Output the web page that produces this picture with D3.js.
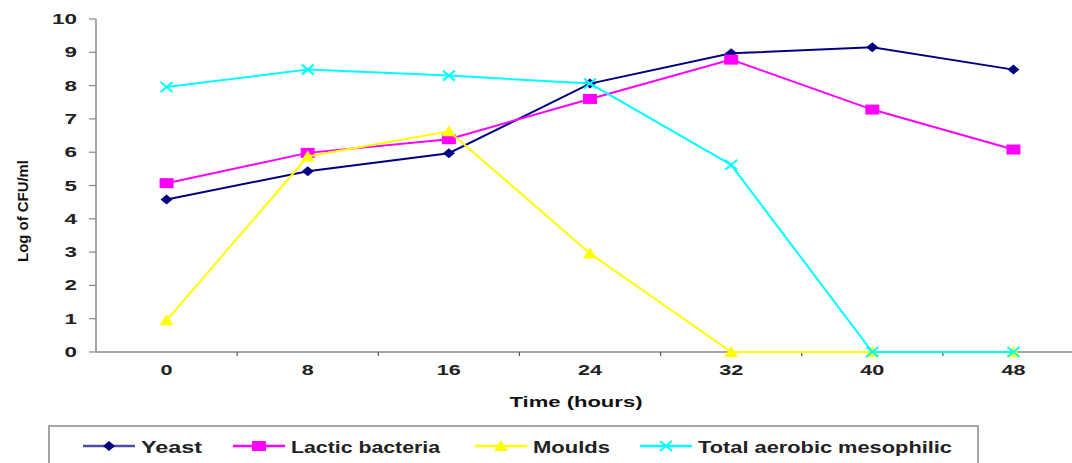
<!DOCTYPE html>
<html><head><meta charset="utf-8">
<script src="https://cdn.jsdelivr.net/npm/d3@7"></script>
<style>body{margin:0;background:#fff;overflow:hidden}svg{display:block;font-family:"Liberation Sans",Arial,sans-serif}</style>
</head><body>
<svg id="c" width="1072" height="463"></svg>
<script>
const hours = ["0","8","16","24","32","40","48"];
const yeast = [4.58, 5.43, 5.97, 8.06, 8.97, 9.15, 8.48];
const lactic = [5.07, 5.98, 6.39, 7.6, 8.78, 7.28, 6.08];
const moulds = [0.95, 5.87, 6.63, 2.96, 0, 0, 0];
const aerobic = [7.96, 8.48, 8.3, 8.06, 5.62, 0, 0];
const yTicks = [0,1,2,3,4,5,6,7,8,9,10];
const seriesNames = ["Yeast","Lactic bacteria","Moulds","Total aerobic mesophilic"];

(function(){
const series = [
  {name: seriesNames[0], values: yeast, color: "#000080", marker: "diamond", tl: 61},
  {name: seriesNames[1], values: lactic, color: "#ff00ff", marker: "square", tl: 149},
  {name: seriesNames[2], values: moulds, color: "#ffff00", marker: "triangle", tl: 77},
  {name: seriesNames[3], values: aerobic, color: "#00ffff", marker: "x", tl: 254}
];

const svg = d3.select("#c");
const mLeft = 96, mRight = 1084, mTop = 19, mBottom = 352;
const x = d3.scaleBand().domain(hours).range([mLeft, mRight]);
const y = d3.scaleLinear().domain([0, 10]).range([mBottom, mTop]);

const axisColor = "#888";
svg.append("line").attr("x1", mLeft).attr("x2", mLeft).attr("y1", mTop).attr("y2", mBottom).attr("stroke", axisColor).attr("stroke-width", 1.5);
svg.append("line").attr("x1", mLeft).attr("x2", 1072).attr("y1", mBottom).attr("y2", mBottom).attr("stroke", axisColor).attr("stroke-width", 1.5);
svg.selectAll(".yt").data(yTicks).enter().append("line")
  .attr("x1", mLeft - 7).attr("x2", mLeft).attr("y1", d => y(d)).attr("y2", d => y(d)).attr("stroke", axisColor).attr("stroke-width", 1.2);
svg.selectAll(".ytl").data(yTicks).enter().append("text")
  .attr("x", 77).attr("y", d => y(d)).attr("dy", "0.36em").attr("text-anchor", "end")
  .attr("font-size", 14).attr("font-weight", "bold").attr("fill", "#222")
  .attr("textLength", d => String(d).length * 12.5).attr("lengthAdjust", "spacingAndGlyphs").text(d => d);
const bounds = hours.map(h => x(h) + x.bandwidth());
svg.selectAll(".xt").data(bounds).enter().append("line")
  .attr("x1", d => d).attr("x2", d => d).attr("y1", mBottom).attr("y2", mBottom + 4).attr("stroke", "#555").attr("stroke-width", 1.2);
svg.selectAll(".xtl").data(hours).enter().append("text")
  .attr("x", d => x(d) + x.bandwidth() / 2).attr("y", 370).attr("dy", "0.36em").attr("text-anchor", "middle")
  .attr("font-size", 14).attr("font-weight", "bold").attr("fill", "#222")
  .attr("textLength", d => d.length * 12).attr("lengthAdjust", "spacingAndGlyphs").text(d => d);

svg.append("text").attr("x", 576).attr("y", 402).attr("dy", "0.36em").attr("text-anchor", "middle")
  .attr("font-size", 15).attr("font-weight", "bold").attr("fill", "#111")
  .attr("textLength", 133).attr("lengthAdjust", "spacingAndGlyphs").text("Time (hours)");
svg.append("text").attr("transform", "translate(23,211) rotate(-90)").attr("dy", "0.36em").attr("text-anchor", "middle")
  .attr("font-size", 14).attr("font-weight", "bold").attr("fill", "#111")
  .attr("textLength", 102).attr("lengthAdjust", "spacingAndGlyphs").text("Log of CFU/ml");

function drawMarker(g, type, color, cx, cy) {
  if (type === "diamond") {
    g.append("path").attr("d", `M${cx-6},${cy}L${cx},${cy-5}L${cx+6},${cy}L${cx},${cy+5}Z`).attr("fill", color);
  } else if (type === "square") {
    g.append("rect").attr("x", cx - 7).attr("y", cy - 5).attr("width", 14).attr("height", 10).attr("fill", color);
  } else if (type === "triangle") {
    g.append("path").attr("d", `M${cx},${cy-6}L${cx+7},${cy+5}L${cx-7},${cy+5}Z`).attr("fill", color);
  } else {
    g.append("path").attr("d", `M${cx-6},${cy-5}L${cx+6},${cy+5}M${cx-6},${cy+5}L${cx+6},${cy-5}`).attr("stroke", color).attr("stroke-width", 2).attr("fill", "none");
  }
}

const line = d3.line().x((d, i) => x(hours[i]) + x.bandwidth() / 2).y(d => y(d));
series.forEach(s => {
  const g = svg.append("g");
  g.append("path").attr("d", line(s.values)).attr("fill", "none").attr("stroke", s.color).attr("stroke-width", 2);
  s.values.forEach((v, i) => drawMarker(g, s.marker, s.color, x(hours[i]) + x.bandwidth() / 2, y(v)));
});

svg.append("rect").attr("x", 49).attr("y", 426).attr("width", 929).attr("height", 50).attr("fill", "#fff").attr("stroke", "#888").attr("stroke-width", 1.5);
const legX = [83, 233, 475, 640];
series.forEach((s, i) => {
  const g = svg.append("g");
  const ly = 446;
  g.append("line").attr("x1", legX[i]).attr("x2", legX[i] + 52).attr("y1", ly).attr("y2", ly).attr("stroke", s.color).attr("stroke-width", 2.5).attr("stroke-opacity", s.marker === "diamond" ? 0.7 : 1);
  drawMarker(g, s.marker, s.color, legX[i] + 26, ly);
  g.append("text").attr("x", legX[i] + 58).attr("y", ly + 1).attr("dy", "0.36em").attr("font-size", 16).attr("font-weight", "bold").attr("fill", "#222")
    .attr("textLength", s.tl).attr("lengthAdjust", "spacingAndGlyphs").text(s.name);
});
})();
</script>
</body></html>
